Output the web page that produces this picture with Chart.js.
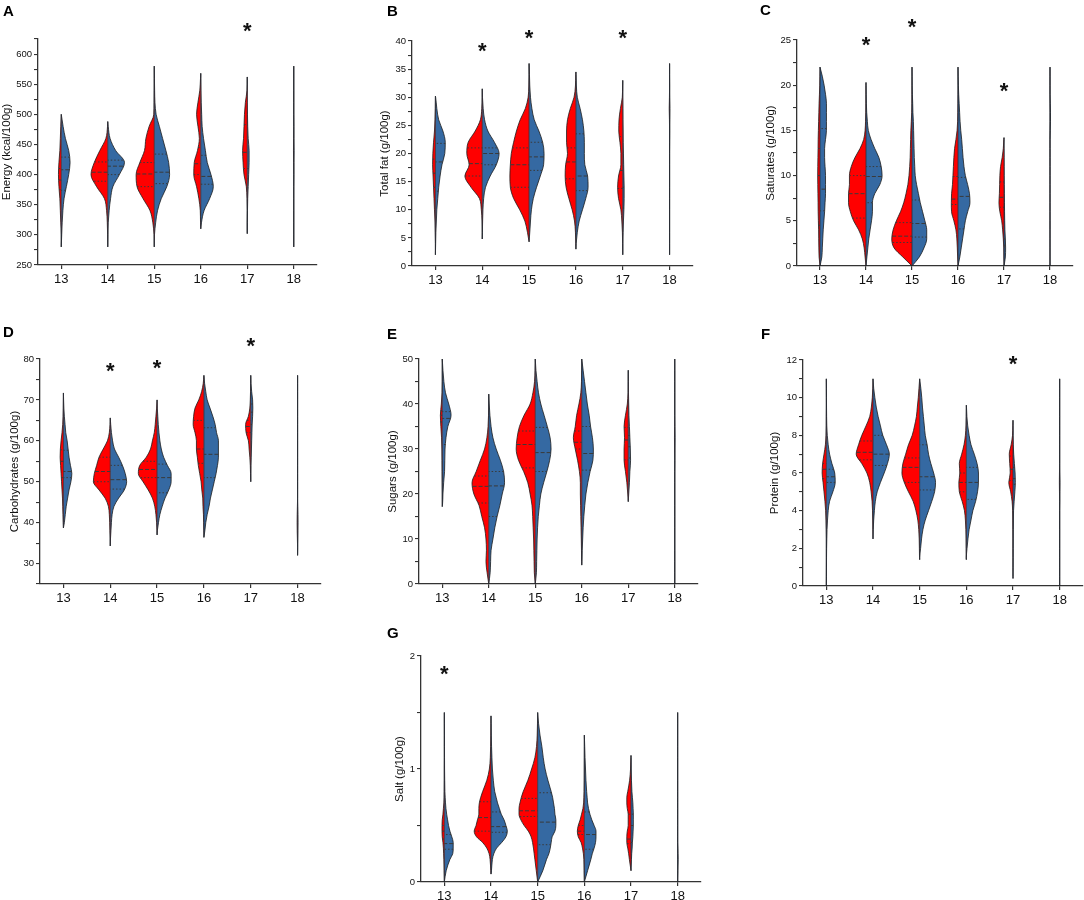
<!DOCTYPE html>
<html>
<head>
<meta charset="utf-8">
<script src="https://cdn.jsdelivr.net/npm/chart.js@4.4.1/dist/chart.umd.min.js"></script>
<style>
  body { margin: 0; background: #fff; width: 1084px; height: 900px; position: relative; overflow: hidden; font-family: "Liberation Sans", Arial, sans-serif; }
  canvas { position: absolute; }
  .tag { position: absolute; font-weight: bold; font-size: 15px; line-height: 15px; color: #000; }
</style>
</head>
<body>
<script>
const categories = [13, 14, 15, 16, 17, 18]

// A - Energy
const energyLevels = [280, 300, 320, 340, 360, 380, 400, 420, 440, 460, 480, 500, 520, 540, 560, 580]
const energyMin = [280, 280, 280, 310, 302, 280]
const energyMax = [500, 488, 580, 568, 562, 580]
const energyRed = [
    [0, 0, 0.01, 0.02, 0.03, 0.05, 0.06, 0.05, 0.03, 0.02, 0.01, 0, 0, 0, 0, 0],
    [0, 0.003, 0.01, 0.025, 0.07, 0.24, 0.36, 0.29, 0.17, 0.04, 0.005, 0, 0, 0, 0, 0],
    [0, 0.005, 0.03, 0.09, 0.24, 0.37, 0.39, 0.31, 0.21, 0.18, 0.11, 0.01, 0.005, 0.003, 0.002, 0],
    [0, 0, 0.005, 0.01, 0.04, 0.09, 0.15, 0.14, 0.07, 0.03, 0.06, 0.09, 0.06, 0.02, 0.005, 0],
    [0, 0, 0, 0, 0.005, 0.02, 0.07, 0.09, 0.1, 0.08, 0.07, 0.06, 0.04, 0.005, 0, 0],
    [0, 0, 0, 0, 0, 0, 0, 0.003, 0.006, 0.003, 0, 0, 0, 0, 0, 0]
]
const energyBlue = [
    [0, 0.01, 0.02, 0.035, 0.06, 0.11, 0.16, 0.19, 0.16, 0.09, 0.04, 0, 0, 0, 0, 0],
    [0, 0.005, 0.01, 0.03, 0.06, 0.11, 0.25, 0.36, 0.17, 0.05, 0.01, 0, 0, 0, 0, 0],
    [0, 0.005, 0.03, 0.07, 0.15, 0.27, 0.33, 0.31, 0.25, 0.18, 0.11, 0.04, 0.015, 0.008, 0.004, 0],
    [0, 0, 0.015, 0.07, 0.19, 0.27, 0.22, 0.14, 0.1, 0.06, 0.03, 0.02, 0.01, 0.005, 0.002, 0],
    [0, 0, 0, 0.005, 0.01, 0.02, 0.03, 0.04, 0.04, 0.02, 0.01, 0.005, 0, 0, 0, 0],
    [0, 0, 0, 0, 0, 0, 0.003, 0.005, 0.008, 0.005, 0.003, 0, 0, 0, 0, 0]
]
const energyQRed = [[375, 391, 410], [389, 404, 421], [380, 401, 420], [400, 418, 445], [410, 437, 483], null]
const energyQBlue = [[374, 408, 429], [400, 414, 424], [385, 404, 434], [384, 397, 432], [378, 393, 410], null]
const energyStars = [[17, 643]]

// B - Total fat
const fatLevels = [2, 4, 6, 8, 10, 12, 14, 16, 18, 20, 22, 24, 26, 28, 30, 32, 34, 36]
const fatMin = [2, 4.8, 4.3, 3, 2, 2]
const fatMax = [30.2, 31.5, 36, 34.5, 33, 36]
const fatRed = [
    [0, 0, 0.005, 0.01, 0.02, 0.03, 0.04, 0.05, 0.06, 0.055, 0.04, 0.02, 0.01, 0.003, 0, 0, 0, 0],
    [0, 0, 0, 0.005, 0.02, 0.06, 0.24, 0.37, 0.28, 0.33, 0.3, 0.15, 0.04, 0.01, 0.003, 0, 0, 0],
    [0, 0, 0.035, 0.09, 0.2, 0.33, 0.4, 0.41, 0.4, 0.38, 0.33, 0.27, 0.19, 0.08, 0.02, 0.005, 0.002, 0],
    [0, 0.003, 0.01, 0.03, 0.08, 0.15, 0.21, 0.23, 0.22, 0.18, 0.2, 0.2, 0.18, 0.12, 0.04, 0.01, 0.003, 0],
    [0, 0.003, 0.008, 0.02, 0.04, 0.09, 0.11, 0.09, 0.04, 0.04, 0.06, 0.085, 0.08, 0.05, 0.01, 0.003, 0, 0],
    [0, 0, 0, 0, 0, 0, 0, 0, 0, 0, 0, 0, 0.003, 0.008, 0.003, 0, 0, 0]
]
const fatBlue = [
    [0, 0.005, 0.01, 0.02, 0.03, 0.05, 0.07, 0.1, 0.14, 0.2, 0.21, 0.16, 0.07, 0.03, 0.005, 0, 0, 0],
    [0, 0, 0.003, 0.008, 0.015, 0.03, 0.07, 0.17, 0.3, 0.36, 0.26, 0.12, 0.05, 0.02, 0.005, 0, 0, 0],
    [0, 0, 0.015, 0.03, 0.05, 0.09, 0.16, 0.24, 0.31, 0.32, 0.29, 0.21, 0.11, 0.06, 0.03, 0.015, 0.008, 0],
    [0, 0.005, 0.03, 0.07, 0.14, 0.21, 0.26, 0.25, 0.19, 0.18, 0.18, 0.17, 0.14, 0.09, 0.03, 0.01, 0.003, 0],
    [0, 0.003, 0.008, 0.015, 0.025, 0.03, 0.03, 0.025, 0.02, 0.015, 0.01, 0.008, 0.005, 0.003, 0, 0, 0, 0],
    [0, 0, 0, 0, 0, 0, 0, 0, 0, 0, 0.002, 0.004, 0.006, 0.008, 0.004, 0.002, 0, 0]
]
const fatQRed = [[14, 16.5, 19], [16, 18.2, 21], [14, 18, 21], [15.5, 18.5, 21], [13.8, 17, 23], null]
const fatQBlue = [[13.3, 18.5, 21.8], [18, 20, 21], [17, 19.4, 22], [13.4, 16, 23.5], [10.3, 14, 20], null]
const fatStars = [[14, 38.6], [15, 41], [17, 40.9]]

// C - Saturates
const satLevels = [0, 1, 2, 3, 4, 5, 6, 7, 8, 9, 10, 11, 12, 13, 14, 15, 16, 17, 18, 19, 20, 21, 22]
const satMin = [0, 0, 0, 0, 0, 0]
const satMax = [22, 20.3, 22, 22, 14.2, 22]
const satRed = [
    [0.015, 0.02, 0.025, 0.028, 0.03, 0.035, 0.04, 0.042, 0.045, 0.048, 0.05, 0.048, 0.045, 0.042, 0.04, 0.035, 0.03, 0.025, 0.02, 0.012, 0.005, 0.002, 0],
    [0, 0.02, 0.04, 0.08, 0.16, 0.27, 0.34, 0.38, 0.38, 0.36, 0.36, 0.32, 0.24, 0.13, 0.05, 0.02, 0.01, 0.005, 0.003, 0.002, 0.001, 0, 0],
    [0, 0.2, 0.39, 0.44, 0.41, 0.34, 0.25, 0.18, 0.13, 0.09, 0.065, 0.05, 0.04, 0.035, 0.03, 0.025, 0.015, 0.006, 0.003, 0.002, 0.001, 0, 0],
    [0, 0.008, 0.015, 0.025, 0.045, 0.09, 0.14, 0.145, 0.14, 0.12, 0.11, 0.1, 0.09, 0.075, 0.045, 0.02, 0.008, 0.004, 0.002, 0.001, 0, 0, 0],
    [0, 0.003, 0.005, 0.015, 0.03, 0.05, 0.09, 0.11, 0.1, 0.095, 0.09, 0.075, 0.04, 0.015, 0.003, 0, 0, 0, 0, 0, 0, 0, 0],
    [0, 0, 0, 0, 0, 0, 0, 0, 0, 0, 0, 0, 0, 0, 0, 0, 0, 0, 0, 0, 0, 0, 0]
]
const satBlue = [
    [0.035, 0.04, 0.05, 0.06, 0.07, 0.085, 0.1, 0.11, 0.12, 0.12, 0.12, 0.11, 0.1, 0.1, 0.12, 0.14, 0.14, 0.14, 0.14, 0.12, 0.09, 0.05, 0],
    [0, 0.02, 0.04, 0.06, 0.09, 0.12, 0.14, 0.14, 0.19, 0.3, 0.35, 0.33, 0.28, 0.19, 0.11, 0.05, 0.03, 0.015, 0.008, 0.004, 0.001, 0, 0],
    [0, 0.16, 0.26, 0.32, 0.32, 0.28, 0.23, 0.18, 0.14, 0.1, 0.07, 0.06, 0.05, 0.045, 0.04, 0.035, 0.03, 0.02, 0.015, 0.008, 0.004, 0.002, 0],
    [0, 0.04, 0.07, 0.1, 0.13, 0.16, 0.21, 0.26, 0.25, 0.21, 0.16, 0.13, 0.11, 0.095, 0.08, 0.06, 0.045, 0.035, 0.025, 0.015, 0.008, 0.003, 0],
    [0, 0.03, 0.035, 0.03, 0.02, 0.015, 0.012, 0.01, 0.008, 0.006, 0.004, 0.003, 0.002, 0.001, 0, 0, 0, 0, 0, 0, 0, 0, 0],
    [0, 0, 0, 0, 0, 0, 0, 0, 0, 0, 0, 0, 0, 0, 0, 0.005, 0.01, 0.01, 0.005, 0, 0, 0, 0]
]
const satQRed = [[4.5, 10, 13], [5.3, 8, 10], [2.6, 3.3, 4.8], [6.8, 7.4, 9.9], [6.5, 7.6, 9.3], null]
const satQBlue = [[6.1, 8.5, 15.2], [7, 9.9, 11], [3.2, 4.7, 7.3], [4.1, 7.7, 9.8], [2.1, 2.3, 3], null]
const satStars = [[14, 24.75], [15, 26.7], [17, 19.65]]

// D - Carbohydrates
const carbLevels = [32, 34, 36, 38, 40, 42, 44, 46, 48, 50, 52, 54, 56, 58, 60, 62, 64, 66, 68, 70, 72, 74, 76]
const carbMin = [38.7, 34.3, 37, 36.4, 50, 32]
const carbMax = [71.7, 65.6, 70, 76, 76, 76]
const carbRed = [
    [0, 0, 0, 0, 0.005, 0.01, 0.015, 0.02, 0.03, 0.04, 0.05, 0.06, 0.07, 0.065, 0.05, 0.03, 0.015, 0.008, 0.004, 0.002, 0, 0, 0],
    [0, 0, 0.003, 0.008, 0.012, 0.02, 0.04, 0.11, 0.24, 0.36, 0.34, 0.29, 0.24, 0.15, 0.06, 0.02, 0.005, 0, 0, 0, 0, 0, 0],
    [0, 0, 0, 0.003, 0.01, 0.025, 0.05, 0.1, 0.19, 0.3, 0.4, 0.37, 0.23, 0.14, 0.1, 0.06, 0.04, 0.025, 0.01, 0, 0, 0, 0],
    [0, 0, 0, 0.003, 0.006, 0.01, 0.02, 0.025, 0.045, 0.06, 0.09, 0.12, 0.14, 0.16, 0.16, 0.19, 0.23, 0.22, 0.19, 0.11, 0.05, 0.015, 0],
    [0, 0, 0, 0, 0, 0, 0, 0, 0, 0, 0.005, 0.01, 0.02, 0.035, 0.05, 0.1, 0.11, 0.05, 0.02, 0.01, 0.005, 0.002, 0],
    [0, 0, 0.004, 0.008, 0.01, 0.008, 0.004, 0, 0, 0, 0, 0, 0, 0, 0, 0, 0, 0, 0, 0, 0, 0, 0]
]
const carbBlue = [
    [0, 0, 0, 0, 0.02, 0.04, 0.06, 0.09, 0.12, 0.16, 0.18, 0.15, 0.12, 0.1, 0.08, 0.05, 0.035, 0.02, 0.01, 0.004, 0, 0, 0],
    [0, 0, 0.005, 0.015, 0.025, 0.04, 0.08, 0.18, 0.3, 0.35, 0.32, 0.26, 0.18, 0.09, 0.05, 0.025, 0.01, 0, 0, 0, 0, 0, 0],
    [0, 0, 0, 0.005, 0.03, 0.06, 0.11, 0.17, 0.25, 0.3, 0.3, 0.22, 0.14, 0.09, 0.06, 0.04, 0.025, 0.015, 0.005, 0, 0, 0, 0],
    [0, 0, 0, 0.02, 0.04, 0.07, 0.11, 0.14, 0.18, 0.22, 0.26, 0.29, 0.31, 0.31, 0.31, 0.27, 0.24, 0.19, 0.13, 0.07, 0.04, 0.015, 0],
    [0, 0, 0, 0, 0, 0, 0, 0, 0, 0, 0.003, 0.005, 0.01, 0.015, 0.02, 0.025, 0.03, 0.04, 0.045, 0.04, 0.02, 0.005, 0],
    [0, 0.003, 0.006, 0.008, 0.01, 0.008, 0.004, 0, 0, 0, 0, 0, 0, 0, 0, 0, 0, 0, 0, 0, 0, 0, 0]
]
const carbQRed = [[51, 55, 57.8], [50, 52.5, 56], [51, 53, 55], [54.5, 58, 65], [62, 63.5, 65], null]
const carbQBlue = [[51, 52.5, 57.7], [48.2, 50.5, 54], [47.3, 51, 54.3], [51, 56.7, 63.2], [64, 67, 69], null]
const carbStars = [[14, 77.6], [15, 78.5], [17, 83.7]]

// E - Sugars
const sugarLevels = [0, 2.5, 5, 7.5, 10, 12.5, 15, 17.5, 20, 22.5, 25, 27.5, 30, 32.5, 35, 37.5, 40, 42.5, 45, 47.5, 50]
const sugarMin = [17.2, 0, 0, 4.2, 18.3, 0]
const sugarMax = [50, 42.2, 50, 50, 47.5, 50]
const sugarRed = [
    [0, 0, 0, 0, 0, 0, 0, 0, 0, 0.002, 0.004, 0.006, 0.008, 0.015, 0.03, 0.04, 0.02, 0.005, 0, 0, 0],
    [0.015, 0.035, 0.06, 0.05, 0.06, 0.09, 0.15, 0.21, 0.32, 0.36, 0.27, 0.18, 0.09, 0.04, 0.015, 0.005, 0.002, 0, 0, 0, 0],
    [0.01, 0.02, 0.025, 0.03, 0.035, 0.045, 0.055, 0.07, 0.11, 0.16, 0.25, 0.36, 0.41, 0.39, 0.34, 0.24, 0.11, 0.05, 0.015, 0.005, 0],
    [0, 0, 0.003, 0.006, 0.01, 0.015, 0.02, 0.025, 0.03, 0.03, 0.05, 0.09, 0.14, 0.18, 0.14, 0.11, 0.06, 0.02, 0.006, 0.002, 0],
    [0, 0, 0, 0, 0, 0, 0, 0, 0.01, 0.03, 0.06, 0.09, 0.09, 0.08, 0.09, 0.06, 0.02, 0.005, 0.002, 0, 0],
    [0, 0, 0, 0, 0, 0, 0, 0, 0, 0, 0, 0, 0.004, 0.006, 0.003, 0, 0, 0, 0, 0, 0]
]
const sugarBlue = [
    [0, 0, 0, 0, 0, 0, 0, 0.005, 0.015, 0.03, 0.05, 0.055, 0.06, 0.08, 0.12, 0.19, 0.14, 0.07, 0.035, 0.015, 0],
    [0.02, 0.03, 0.04, 0.05, 0.09, 0.13, 0.18, 0.24, 0.29, 0.34, 0.32, 0.25, 0.16, 0.09, 0.05, 0.025, 0.01, 0, 0, 0, 0],
    [0.02, 0.025, 0.03, 0.035, 0.04, 0.05, 0.065, 0.09, 0.12, 0.18, 0.25, 0.31, 0.34, 0.32, 0.26, 0.19, 0.12, 0.07, 0.04, 0.015, 0],
    [0, 0, 0.005, 0.01, 0.02, 0.03, 0.045, 0.065, 0.09, 0.13, 0.18, 0.24, 0.25, 0.23, 0.19, 0.16, 0.12, 0.09, 0.06, 0.03, 0],
    [0, 0, 0, 0, 0, 0, 0, 0, 0.01, 0.025, 0.035, 0.05, 0.045, 0.035, 0.025, 0.015, 0.01, 0.005, 0.002, 0, 0],
    [0, 0, 0, 0, 0, 0, 0, 0, 0, 0, 0, 0.003, 0.006, 0.008, 0.005, 0, 0, 0, 0, 0, 0]
]
const sugarQRed = [[36, 37.5, 38.5], [18, 21.7, 24], [25.8, 31, 34], [30, 31.5, 34], [27.6, 32, 34.8], null]
const sugarQBlue = [[31, 36.8, 38.3], [15, 21.8, 25], [25, 29.2, 34.8], [25.3, 29, 35], [28, 30.5, 33], null]
const sugarStars = []

// F - Protein
const protLevels = [0, 0.5, 1, 1.5, 2, 2.5, 3, 3.5, 4, 4.5, 5, 5.5, 6, 6.5, 7, 7.5, 8, 8.5, 9, 9.5, 10, 10.5, 11]
const protMin = [0, 2.5, 1.4, 1.4, 0.4, 0]
const protMax = [11, 11, 11, 9.6, 8.8, 11]
const protRed = [
    [0, 0, 0, 0, 0, 0, 0.003, 0.008, 0.015, 0.03, 0.05, 0.07, 0.09, 0.08, 0.05, 0.02, 0.008, 0.003, 0.002, 0, 0, 0, 0],
    [0, 0, 0, 0, 0, 0, 0.003, 0.006, 0.01, 0.02, 0.04, 0.07, 0.13, 0.24, 0.36, 0.31, 0.24, 0.15, 0.07, 0.035, 0.015, 0.005, 0],
    [0, 0, 0, 0.003, 0.006, 0.01, 0.02, 0.04, 0.08, 0.14, 0.24, 0.33, 0.38, 0.36, 0.3, 0.24, 0.16, 0.11, 0.07, 0.05, 0.03, 0.015, 0],
    [0, 0, 0, 0.002, 0.004, 0.006, 0.01, 0.02, 0.04, 0.09, 0.15, 0.16, 0.14, 0.15, 0.1, 0.05, 0.02, 0.008, 0.003, 0, 0, 0, 0],
    [0, 0, 0.001, 0.001, 0.002, 0.002, 0.003, 0.005, 0.008, 0.02, 0.05, 0.09, 0.06, 0.07, 0.08, 0.04, 0.01, 0.003, 0, 0, 0, 0, 0],
    [0, 0, 0, 0, 0, 0, 0, 0, 0, 0, 0.004, 0.006, 0.004, 0, 0, 0, 0, 0, 0, 0, 0, 0, 0]
]
const protBlue = [
    [0, 0.002, 0.003, 0.004, 0.006, 0.01, 0.015, 0.025, 0.04, 0.07, 0.14, 0.19, 0.18, 0.12, 0.07, 0.04, 0.02, 0.01, 0.006, 0.004, 0.003, 0.002, 0],
    [0, 0, 0, 0, 0, 0, 0.005, 0.015, 0.03, 0.05, 0.09, 0.16, 0.24, 0.31, 0.35, 0.29, 0.21, 0.16, 0.11, 0.07, 0.04, 0.015, 0],
    [0, 0, 0, 0, 0.02, 0.04, 0.07, 0.12, 0.19, 0.26, 0.32, 0.34, 0.3, 0.24, 0.19, 0.16, 0.12, 0.1, 0.08, 0.06, 0.045, 0.025, 0],
    [0, 0, 0, 0, 0.015, 0.035, 0.06, 0.1, 0.14, 0.2, 0.24, 0.26, 0.26, 0.23, 0.17, 0.1, 0.06, 0.03, 0.012, 0.003, 0, 0, 0],
    [0, 0, 0.002, 0.003, 0.004, 0.005, 0.006, 0.009, 0.012, 0.025, 0.04, 0.05, 0.045, 0.03, 0.015, 0.006, 0.003, 0.001, 0, 0, 0, 0, 0],
    [0, 0, 0, 0, 0, 0, 0, 0, 0, 0.003, 0.006, 0.008, 0.004, 0, 0, 0, 0, 0, 0, 0, 0, 0, 0]
]
const protQRed = [[5.7, 6.2, 6.5], [6.7, 7.1, 7.7], [5.5, 6.3, 6.8], [5, 5.5, 6], [5.6, 6.2, 6.9], null]
const protQBlue = [[5.5, 5.8, 6.2], [6.4, 7, 8], [5.1, 5.8, 7.5], [4.6, 5.5, 6.3], [5.4, 5.7, 6.3], null]
const protStars = [[17, 11.9]]

// G - Salt
const saltLevels = [0, 0.1, 0.2, 0.25, 0.3, 0.35, 0.4, 0.45, 0.5, 0.55, 0.6, 0.65, 0.7, 0.75, 0.8, 0.9, 1.0, 1.1, 1.2, 1.3, 1.4, 1.5]
const saltMin = [0, 0.07, 0, 0, 0.1, 0]
const saltMax = [1.5, 1.47, 1.5, 1.3, 1.12, 1.5]
const saltRed = [
    [0, 0.005, 0.01, 0.015, 0.02, 0.03, 0.045, 0.05, 0.05, 0.045, 0.03, 0.02, 0.01, 0.006, 0.004, 0.002, 0.002, 0.001, 0.001, 0, 0, 0],
    [0, 0.005, 0.02, 0.04, 0.09, 0.18, 0.31, 0.36, 0.32, 0.29, 0.26, 0.26, 0.25, 0.22, 0.18, 0.09, 0.035, 0.015, 0.008, 0.004, 0.002, 0],
    [0, 0.03, 0.06, 0.075, 0.09, 0.11, 0.14, 0.2, 0.29, 0.36, 0.4, 0.4, 0.38, 0.35, 0.31, 0.21, 0.13, 0.06, 0.025, 0.01, 0.004, 0],
    [0, 0.005, 0.01, 0.02, 0.04, 0.07, 0.13, 0.15, 0.13, 0.09, 0.06, 0.03, 0.015, 0.01, 0.006, 0.003, 0.002, 0.001, 0, 0, 0, 0],
    [0, 0, 0.035, 0.05, 0.07, 0.09, 0.09, 0.08, 0.06, 0.06, 0.06, 0.08, 0.09, 0.09, 0.07, 0.03, 0.01, 0.002, 0, 0, 0, 0],
    [0, 0, 0, 0, 0, 0, 0, 0, 0, 0, 0, 0, 0, 0, 0, 0, 0, 0, 0, 0, 0, 0]
]
const saltBlue = [
    [0, 0.04, 0.12, 0.18, 0.19, 0.19, 0.16, 0.12, 0.09, 0.07, 0.05, 0.035, 0.025, 0.018, 0.012, 0.008, 0.005, 0.004, 0.003, 0.002, 0.001, 0],
    [0, 0.01, 0.03, 0.06, 0.12, 0.23, 0.32, 0.35, 0.32, 0.28, 0.22, 0.18, 0.14, 0.11, 0.08, 0.05, 0.03, 0.02, 0.012, 0.006, 0.003, 0],
    [0, 0.11, 0.19, 0.24, 0.27, 0.29, 0.31, 0.37, 0.39, 0.39, 0.37, 0.36, 0.34, 0.32, 0.29, 0.22, 0.16, 0.12, 0.09, 0.05, 0.02, 0],
    [0, 0.07, 0.14, 0.17, 0.21, 0.24, 0.25, 0.25, 0.21, 0.16, 0.12, 0.09, 0.07, 0.06, 0.05, 0.035, 0.025, 0.015, 0.008, 0, 0, 0],
    [0, 0, 0.01, 0.015, 0.025, 0.03, 0.04, 0.045, 0.05, 0.05, 0.05, 0.045, 0.04, 0.03, 0.02, 0.01, 0.005, 0.002, 0, 0, 0, 0],
    [0, 0.005, 0.01, 0.008, 0.005, 0, 0, 0, 0, 0, 0, 0, 0, 0, 0, 0, 0, 0, 0, 0, 0, 0]
]
const saltQRed = [[0.38, 0.45, 0.5], [0.45, 0.57, 0.71], [0.58, 0.63, 0.74], [0.42, 0.45, 0.5], [0.34, 0.38, 0.6], null]
const saltQBlue = [[0.29, 0.34, 0.42], [0.44, 0.49, 0.62], [0.33, 0.53, 0.79], [0.29, 0.42, 0.62], [0.35, 0.5, 0.6], null]
const saltStars = [[13, 1.86]]

const RED = '#ff0000'
const BLUE = '#3569a2'
const FONT = '"Liberation Sans", Arial, sans-serif'

// panel list: data + where the plot area sits on the page
const panels = [
    {tag: 'A', title: 'Energy (kcal/100g)', levels: energyLevels, min: energyMin, max: energyMax, red: energyRed, blue: energyBlue, qRed: energyQRed, qBlue: energyQBlue, stars: energyStars,
        yMin: 250, yMax: 625, major: 50, minor: 25, area: {left: 38, top: 39, right: 317, bottom: 265}, axisW: 38, tagPos: [3, 3]},
    {tag: 'B', title: 'Total fat (g/100g)', levels: fatLevels, min: fatMin, max: fatMax, red: fatRed, blue: fatBlue, qRed: fatQRed, qBlue: fatQBlue, stars: fatStars,
        yMin: 0, yMax: 40, major: 5, minor: 2.5, area: {left: 412, top: 41, right: 693, bottom: 266}, axisW: 34, tagPos: [387, 3]},
    {tag: 'C', title: 'Saturates (g/100g)', levels: satLevels, min: satMin, max: satMax, red: satRed, blue: satBlue, qRed: satQRed, qBlue: satQBlue, stars: satStars,
        yMin: 0, yMax: 25, major: 5, minor: 2.5, area: {left: 797, top: 40, right: 1073, bottom: 266}, axisW: 33, tagPos: [760, 2]},
    {tag: 'D', title: 'Carbohydrates (g/100g)', levels: carbLevels, min: carbMin, max: carbMax, red: carbRed, blue: carbBlue, qRed: carbQRed, qBlue: carbQBlue, stars: carbStars,
        yMin: 25, yMax: 80, major: 10, minor: 5, area: {left: 40, top: 359, right: 321, bottom: 584}, axisW: 32, tagPos: [3, 324]},
    {tag: 'E', title: 'Sugars (g/100g)', levels: sugarLevels, min: sugarMin, max: sugarMax, red: sugarRed, blue: sugarBlue, qRed: sugarQRed, qBlue: sugarQBlue, stars: sugarStars,
        yMin: 0, yMax: 50, major: 10, minor: 5, area: {left: 419, top: 359, right: 698, bottom: 584}, axisW: 33, tagPos: [387, 326]},
    {tag: 'F', title: 'Protein (g/100g)', levels: protLevels, min: protMin, max: protMax, red: protRed, blue: protBlue, qRed: protQRed, qBlue: protQBlue, stars: protStars,
        yMin: 0, yMax: 12, major: 2, minor: 1, area: {left: 803, top: 360, right: 1083, bottom: 586}, axisW: 35, tagPos: [761, 326]},
    {tag: 'G', title: 'Salt (g/100g)', levels: saltLevels, min: saltMin, max: saltMax, red: saltRed, blue: saltBlue, qRed: saltQRed, qBlue: saltQBlue, stars: saltStars,
        yMin: 0, yMax: 2, major: 1, minor: 0.5, area: {left: 421, top: 656, right: 701, bottom: 882}, axisW: 28, tagPos: [387, 625]}
]

function halfPoints(cat, side, levels, widths, lo, hi) {
    const pts = [{x: cat, y: lo}]
    levels.forEach((lv, i) => {
        if (lv > lo && lv < hi) pts.push({x: cat + side * widths[i], y: lv})
    })
    pts.push({x: cat, y: hi})
    return pts
}

// width of a half at level q
function widthAt(levels, widths, q) {
    for (let i = 1; i < levels.length; i++) {
        if (q <= levels[i]) {
            const t = (q - levels[i - 1]) / (levels[i] - levels[i - 1])
            return widths[i - 1] + t * (widths[i] - widths[i - 1])
        }
    }
    return 0
}

function buildDatasets(p) {
    const datasets = []
    categories.forEach((cat, c) => {
        const halves = [[p.red[c], -1, RED, p.qRed[c]], [p.blue[c], 1, BLUE, p.qBlue[c]]]
        halves.forEach(([w, side, color, q]) => {
            datasets.push({
                data: halfPoints(cat, side, p.levels, w, p.min[c], p.max[c]),
                backgroundColor: color,
                borderColor: '#1c1c1c',
                borderWidth: 0.8,
                fill: {value: cat},
                cubicInterpolationMode: 'monotone',
                pointRadius: 0,
                order: 3
            })
            if (!q) return
            q.forEach((qv, k) => {
                datasets.push({
                    data: [{x: cat + side * widthAt(p.levels, w, qv), y: qv}, {x: cat, y: qv}],
                    borderColor: '#3a3a3a',
                    borderWidth: 1,
                    borderDash: k === 1 ? [4, 2] : [1.5, 2],
                    fill: false,
                    tension: 0,
                    pointRadius: 0,
                    order: 1
                })
            })
        })
        // centre line between the two halves
        datasets.push({
            data: [{x: cat, y: p.min[c]}, {x: cat, y: p.max[c]}],
            borderColor: '#2a2f3a',
            borderWidth: 0.8,
            fill: false,
            pointRadius: 0,
            order: 2
        })
    })
    return datasets
}

function yTicks(p) {
    const out = []
    const n = Math.round((p.yMax - p.yMin) / p.minor)
    for (let i = 0; i <= n; i++) out.push({value: +(p.yMin + i * p.minor).toFixed(4)})
    return out
}

panels.forEach((p) => {
    const padTop = Math.min(40, p.area.top)
    const padRight = 8
    const xAxisH = 35
    const left = p.area.left - p.axisW
    const top = p.area.top - padTop
    const width = p.area.right - left + padRight
    const height = p.area.bottom + xAxisH - top

    const cv = document.createElement('canvas')
    cv.width = width
    cv.height = height
    cv.style.left = left + 'px'
    cv.style.top = top + 'px'
    cv.style.width = width + 'px'
    cv.style.height = height + 'px'
    document.body.appendChild(cv)

    const tag = document.createElement('div')
    tag.className = 'tag'
    tag.textContent = p.tag
    tag.style.left = p.tagPos[0] + 'px'
    tag.style.top = p.tagPos[1] + 'px'
    document.body.appendChild(tag)

    const starPlugin = {
        id: 'stars' + p.tag,
        afterDraw(chart) {
            const {ctx, scales: {x, y}} = chart
            ctx.save()
            ctx.font = 'bold 22px ' + FONT
            ctx.fillStyle = '#111'
            ctx.textAlign = 'center'
            ctx.textBaseline = 'alphabetic'
            p.stars.forEach(([c, v]) => {
                ctx.fillText('*', x.getPixelForValue(c), y.getPixelForValue(v) + 9.5)
            })
            ctx.restore()
        }
    }

    new Chart(cv, {
        type: 'line',
        data: {datasets: buildDatasets(p)},
        options: {
            indexAxis: 'y',
            responsive: false,
            animation: false,
            events: [],
            layout: {padding: {top: padTop, right: padRight, left: 0, bottom: 0}},
            plugins: {legend: {display: false}, tooltip: {enabled: false}},
            scales: {
                x: {
                    type: 'linear',
                    min: 12.5,
                    max: 18.5,
                    afterBuildTicks: (ax) => { ax.ticks = categories.map(v => ({value: v})) },
                    afterFit: (ax) => { ax.height = xAxisH },
                    grid: {drawOnChartArea: false, tickLength: 4, color: '#333', lineWidth: 1.2},
                    border: {color: '#333', width: 1.3},
                    ticks: {font: {size: 13, family: FONT}, color: '#111', padding: 3, maxRotation: 0, autoSkip: false}
                },
                y: {
                    type: 'linear',
                    min: p.yMin,
                    max: p.yMax,
                    afterBuildTicks: (ax) => { ax.ticks = yTicks(p) },
                    afterFit: (ax) => { ax.width = p.axisW },
                    grid: {drawOnChartArea: false, tickLength: 4, color: '#333', lineWidth: 1.1},
                    border: {color: '#333', width: 1.3},
                    ticks: {
                        font: {size: 9.5, family: FONT},
                        color: '#111',
                        padding: 2,
                        autoSkip: false,
                        callback: (v) => {
                            const onMajor = Math.abs(v / p.major - Math.round(v / p.major)) < 1e-6
                            return onMajor ? String(v) : ''
                        }
                    },
                    title: {display: true, text: p.title, font: {size: 11.5, family: FONT}, color: '#111', padding: 0}
                }
            }
        },
        plugins: [starPlugin]
    })
})
</script>
</body>
</html>
